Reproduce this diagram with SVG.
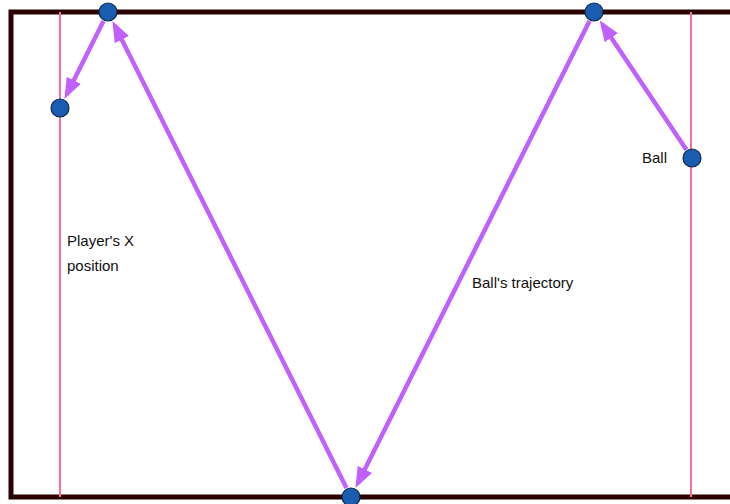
<svg xmlns="http://www.w3.org/2000/svg" width="730" height="504" viewBox="0 0 730 504">
  <style>
    .frame{fill:none;stroke:#2b0000;stroke-width:5;stroke-linejoin:miter}
    .guide{stroke:#ff6d9a;stroke-width:2}
    .arrow{stroke:#c061ff;stroke-width:4.5;fill:none;marker-end:url(#ah)}
    .node{fill:#1a5cb0;stroke:#0f2a4a;stroke-width:1.2}
    .lbl{font-family:"Liberation Sans",Arial,sans-serif;font-size:15px;fill:#111}
  </style>
  <defs>
    <marker id="ah" markerUnits="userSpaceOnUse" markerWidth="24" markerHeight="18" refX="16" refY="8" orient="auto">
      <path d="M0,0 L21,8 L0,16 z" fill="#c061ff"/>
    </marker>
  </defs>
  <rect width="730" height="504" fill="#ffffff"/>
  <g id="frame">
    <path class="frame" d="M735,12 L11,12 L11,497 L735,497"/>
  </g>
  <g id="guides">
    <line class="guide" x1="60" y1="12" x2="60" y2="497"/>
    <line class="guide" x1="691" y1="12" x2="691" y2="497"/>
  </g>
  <g id="connectors">
    <line class="arrow" x1="103.5" y1="20.9" x2="66.7" y2="94.6"/>
    <line class="arrow" x1="346.5" y1="488.1" x2="114.7" y2="25.4"/>
    <line class="arrow" x1="589.5" y1="20.9" x2="357.7" y2="483.6"/>
    <line class="arrow" x1="686.4" y1="149.7" x2="602.4" y2="24.4"/>
  </g>
  <g id="node-top-left"><circle class="node" cx="108" cy="12" r="9"/></g>
  <g id="node-player"><circle class="node" cx="60" cy="108" r="9"/></g>
  <g id="node-top-right"><circle class="node" cx="594" cy="12" r="9"/></g>
  <g id="node-ball"><circle class="node" cx="692" cy="158" r="9"/></g>
  <g id="node-bottom"><circle class="node" cx="351" cy="497" r="9"/></g>
  <g id="labels">
    <text class="lbl" x="67" y="246">Player's X</text>
    <text class="lbl" x="67" y="271">position</text>
    <text class="lbl" x="472" y="288">Ball's trajectory</text>
    <text class="lbl" x="642" y="163">Ball</text>
  </g>
</svg>
